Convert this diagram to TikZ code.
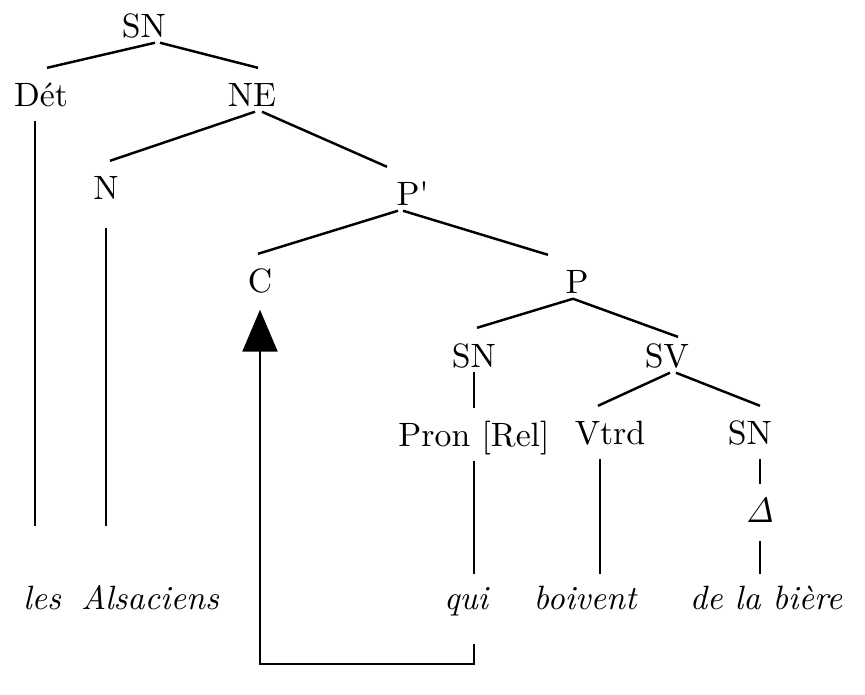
\documentclass[tikz,border=0pt]{standalone}
\usetikzlibrary{arrows.meta}
\tikzset{
  cat/.style={anchor=base, inner sep=0pt, text height=10.8pt, text depth=1pt},
  leaf/.style={anchor=base, inner sep=0pt, font={\fontsize{9.6}{11.5}\selectfont\itshape},
    text height=10pt, text depth=9.4pt},
  drop/.style={shorten <=0.9mm},
  move/.style={-{Triangle[length=4.2mm,width=3.5mm]}, shorten >=1.2mm},
}
\begin{document}
\begin{tikzpicture}[line width=0.7pt, font=\fontsize{9.6}{11.5}\selectfont]
  \useasboundingbox (0,0) rectangle (8.65,6.95);
  % categories
  \node[cat] (SN0) at (1.44,6.57) {SN};
  \node[cat] (Det) at (0.41,5.88) {Dét};
  \node[cat] (NE) at (2.52,5.88) {NE};
  \node[cat] (N) at (1.06,4.95) {N};
  \node[cat] (Pb) at (4.08,4.89) {P\rlap{\textquotesingle}};
  \node[cat] (C) at (2.60,4.02) {C};
  \node[cat] (P) at (5.77,4.01) {P};
  \node[cat] (SN1) at (4.74,3.28) {SN};
  \node[cat, text height=8.5pt] (SV) at (6.67,3.27) {SV};
  \node[cat] (Pron) at (4.74,2.48) {Pron [Rel]};
  \node[cat] (Vtrd) at (6.10,2.50) {Vtrd};
  \node[cat] (SN2) at (7.50,2.50) {SN};
  \node[cat] (Dl) at (7.60,1.72) {$\mathit{\Delta}$};
  % words
  \node[leaf] (les) at (0.42,0.85) {les};
  \node[leaf] (Als) at (1.50,0.85) {Alsaciens};
  \node[leaf] (qui) at (4.66,0.85) {qui};
  \node[leaf] (boivent) at (5.85,0.85) {boivent};
  \node[leaf] (biere) at (7.66,0.85) {de la bière};

  % branches
  \draw ([xshift=1.1mm]SN0.south) -- ([xshift=0.6mm]Det.north);
  \draw ([xshift=1.6mm]SN0.south) -- ([xshift=0.6mm]NE.north);
  \draw ([xshift=0.3mm]NE.south) -- ([xshift=0.4mm]N.north);
  \draw ([xshift=1mm]NE.south) -- ([xshift=-2.1mm]Pb.north);
  \draw ([xshift=-1mm]Pb.south) -- ([xshift=-0.2mm]C.north);
  \draw ([xshift=-0.5mm]Pb.south) -- ([xshift=-2.9mm]P.north);
  \draw ([xshift=-0.4mm]P.south) -- ([xshift=0.3mm]SN1.north);
  \draw ([xshift=-0.4mm]P.south) -- ([xshift=1.1mm]SV.north);
  \draw ([xshift=0.3mm]SV.south) -- ([xshift=-1.2mm]Vtrd.north);
  \draw ([xshift=0.9mm]SV.south) -- ([xshift=1mm]SN2.north);
  \draw (SN1.south) -- (Pron.north);

  % down to the words
  \draw[drop, shorten >=4.8mm] ([xshift=-0.6mm]Det.south) -- ([xshift=-0.6mm]Det.south |- les.north);
  \draw[drop, shorten <=2.3mm, shorten >=4.8mm] (N.south) -- (N.south |- Als.north);
  \draw[drop] (Pron.south) -- (Pron.south |- qui.north);
  \draw[drop] ([xshift=-1mm]Vtrd.south) -- ([xshift=-1mm]Vtrd.south |- boivent.north);
  \draw[drop] (Dl.north |- SN2.south) -- (Dl.north);
  \draw[drop, shorten <=1.3mm] (Dl.south) -- (Dl.south |- biere.north);

  % movement of the relative pronoun
  \draw[move] (Pron.south |- qui.south) -- ++(0,-0.2) -| (C.south);
\end{tikzpicture}
\end{document}
